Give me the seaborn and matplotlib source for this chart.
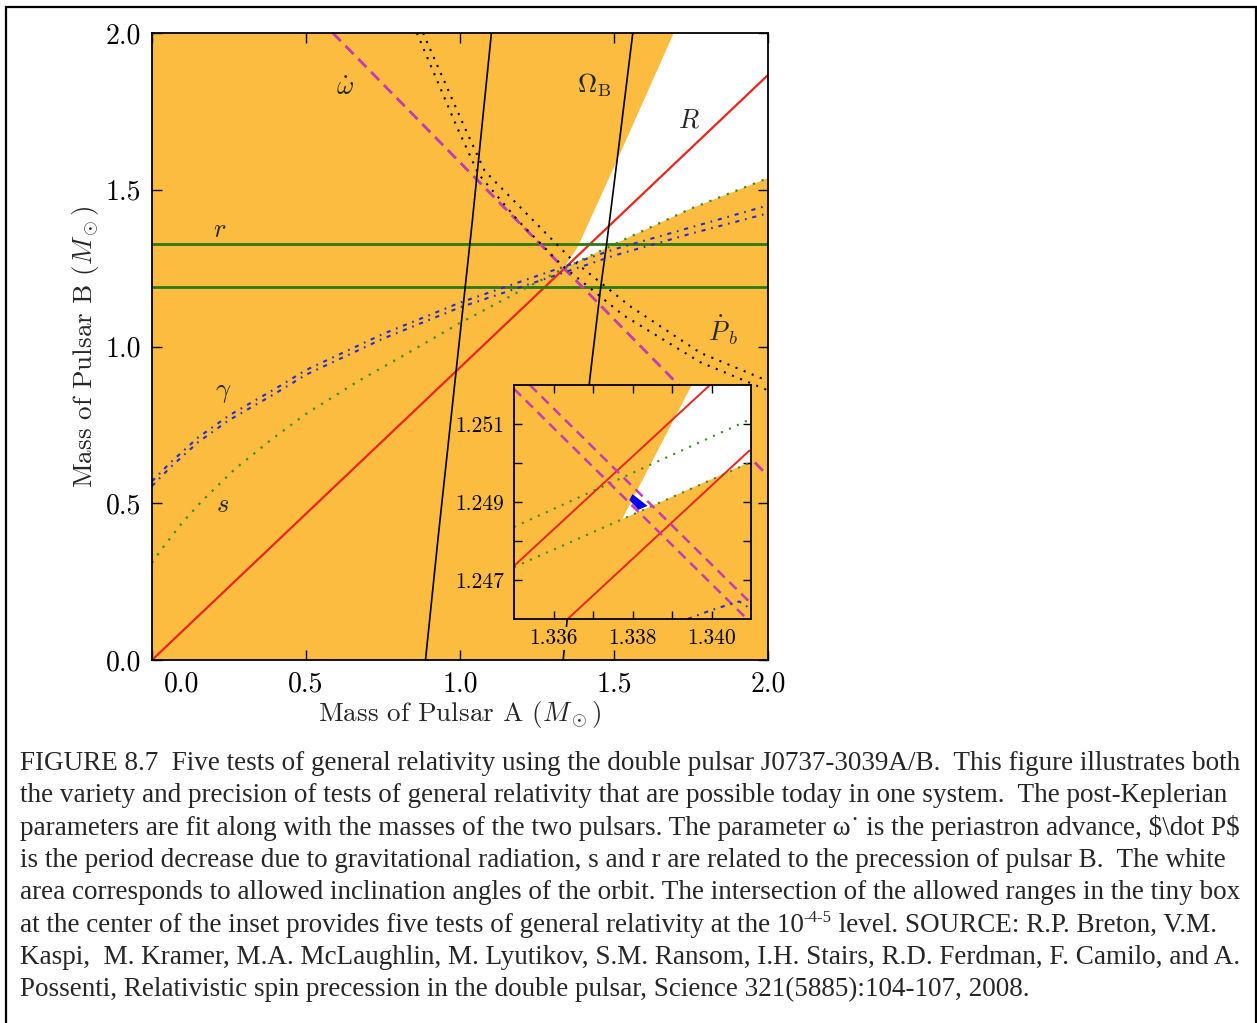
import matplotlib
matplotlib.use("Agg")
import matplotlib.pyplot as plt
import matplotlib.transforms as mtransforms
from matplotlib.patches import Rectangle
import seaborn as sns

# ---------------- data (solar masses) ----------------
# mass ratio R
R_x = [0.0, 2.0]
R_y = [0.0, 1.866]
# Shapiro range r : two horizontal bounds
r_lo = 1.190
r_hi = 1.327
# periastron advance (two nearly coincident bounds)
omdot1_x = [0.5869, 2.0]
omdot1_y = [2.0, 0.5869]
omdot2_x = [0.5873, 2.0]
omdot2_y = [2.0, 0.5873]
# Omega_B (spin precession), two bounds
omB1_x = [0.888, 0.930, 0.985, 1.040, 1.102]
omB1_y = [0.0, 0.40, 0.90, 1.40, 2.0]
omB2_x = [1.335, 1.385, 1.421, 1.457, 1.476, 1.519, 1.561]
omB2_y = [0.0, 0.50, 0.893, 1.190, 1.327, 1.665, 2.0]
# orbital decay Pb-dot, two bounds
pb1_x = [0.86, 0.99, 1.06, 1.19, 1.33, 1.53, 1.78, 2.00]
pb1_y = [2.00, 1.70, 1.55, 1.40, 1.26, 1.10, 0.95, 0.86]
pb2_x = [0.88, 1.01, 1.08, 1.22, 1.36, 1.55, 1.78, 2.00]
pb2_y = [2.00, 1.71, 1.56, 1.42, 1.28, 1.13, 0.98, 0.89]
# gamma, two bounds
gam_x = [0.0, 0.06, 0.15, 0.25, 0.40, 0.50, 0.75, 1.00, 1.25, 1.50, 1.75, 2.00]
gam1_y = [0.57, 0.63, 0.71, 0.78, 0.865, 0.925, 1.04, 1.14, 1.225, 1.31, 1.38, 1.45]
gam2_y = [0.555, 0.615, 0.695, 0.765, 0.85, 0.91, 1.025, 1.125, 1.207, 1.29, 1.36, 1.425]
# Shapiro shape s
s_x = [0.0, 0.04, 0.10, 0.16, 0.27, 0.39, 0.50, 0.67, 0.80, 1.00, 1.22, 1.35, 1.55, 1.75, 2.00]
s_y = [0.31, 0.365, 0.44, 0.505, 0.61, 0.705, 0.785, 0.89, 0.962, 1.075, 1.19, 1.255, 1.349, 1.44, 1.537]
# allowed inclination (white)
white_x = [1.337, 1.382, 1.506, 1.694, 2.0, 2.0, 1.75, 1.55]
white_y = [1.250, 1.317, 1.585, 2.0, 2.0, 1.537, 1.44, 1.349]

# labels on the main panel
lab_txt = [r"$\dot\omega$", r"$\Omega_\mathrm{B}$", r"$R$", r"$r$", r"$\dot P_b$", r"$\gamma$", r"$s$"]
lab_x = [0.628, 1.437, 1.743, 0.221, 1.854, 0.231, 0.228]
lab_y = [1.825, 1.834, 1.722, 1.372, 1.053, 0.852, 0.494]

# ---------------- inset ----------------
in_R1_x = [1.3350, 1.33996]
in_R1_y = [1.24736, 1.2520]
in_R2_x = [1.33636, 1.34096]
in_R2_y = [1.2460, 1.25032]
in_s1_x = [1.3350, 1.3410]
in_s1_y = [1.24836, 1.25113]
in_s2_x = [1.3350, 1.3410]
in_s2_y = [1.24733, 1.25002]
in_om1_x = [1.3350, 1.3410]
in_om1_y = [1.2519, 1.2459]
in_om2_x = [1.3354, 1.3410]
in_om2_y = [1.2520, 1.2464]
in_gam_x = [1.3394, 1.3400, 1.3407, 1.3409, 1.3410]
in_gam_y = [1.2460, 1.24623, 1.24645, 1.24632, 1.2462]
in_white_x = [1.33774, 1.3395, 1.3410, 1.3410]
in_white_y = [1.24856, 1.2520, 1.2520, 1.25004]
in_box_x = [1.33792, 1.33800, 1.33838, 1.33815]
in_box_y = [1.24905, 1.24920, 1.24890, 1.24880]

main_ticks = [0.0, 0.5, 1.0, 1.5, 2.0]
main_ticklabels = ["0.0", "0.5", "1.0", "1.5", "2.0"]
in_xticks = [1.336, 1.337, 1.338, 1.339, 1.340]
in_xticklabels = ["1.336", "", "1.338", "", "1.340"]
in_yticks = [1.247, 1.248, 1.249, 1.250, 1.251]
in_yticklabels = ["1.247", "", "1.249", "", "1.251"]

caption = [
    "FIGURE 8.7  Five tests of general relativity using the double pulsar J0737-3039A/B.  This figure illustrates both",
    "the variety and precision of tests of general relativity that are possible today in one system.  The post-Keplerian",
    r"parameters are fit along with the masses of the two pulsars. The parameter ω˙ is the periastron advance, \$\dot P\$",
    "is the period decrease due to gravitational radiation, s and r are related to the precession of pulsar B.  The white",
    "area corresponds to allowed inclination angles of the orbit. The intersection of the allowed ranges in the tiny box",
    ["at the center of the inset provides five tests of general relativity at the 10", "-4-5",
     " level. SOURCE: R.P. Breton, V.M."],
    "Kaspi,  M. Kramer, M.A. McLaughlin, M. Lyutikov, S.M. Ransom, I.H. Stairs, R.D. Ferdman, F. Camilo, and A.",
    "Possenti, Relativistic spin precession in the double pulsar, Science 321(5885):104-107, 2008.",
]

# colours
ORANGE = "#fbbc40"
RED = "#e8261c"
MAG = "#c23cb4"
BLUE = "#2a2ad6"
GREEN = "#3a8a22"
DKGREEN = "#2b7a18"

sns.set_style("ticks")
plt.rcParams["font.family"] = "cmr10"
plt.rcParams["mathtext.fontset"] = "cm"
plt.rcParams["axes.formatter.use_mathtext"] = True
plt.rcParams["axes.unicode_minus"] = False


def curve(a, xs, ys, **kw):
    sns.lineplot(x=xs, y=ys, ax=a, sort=False, estimator=None, legend=False, **kw)


W, H = 1257, 1023
fig = plt.figure(figsize=(W / 100, H / 100), dpi=100)

# ---------------- main panel ----------------
ax = fig.add_axes([152 / W, 1 - 660 / H, 616 / W, 627 / H])
ax.set_facecolor(ORANGE)
ax.fill(white_x, white_y, color="white", lw=0, zorder=0.5)

dotted = (0, (1, 3.2))
dashdot = (0, (2, 2.8, 0.8, 2.8))
curve(ax, R_x, R_y, color=RED, lw=1.6)
curve(ax, [0, 2], [r_lo, r_lo], color=DKGREEN, lw=2.0)
curve(ax, [0, 2], [r_hi, r_hi], color=DKGREEN, lw=2.0)
curve(ax, omdot1_x, omdot1_y, color=MAG, lw=1.8, linestyle=(0, (4.5, 2.8)))
curve(ax, omdot2_x, omdot2_y, color=MAG, lw=1.8, linestyle=(0, (4.5, 2.8)))
curve(ax, omB1_x, omB1_y, color="black", lw=1.2)
curve(ax, omB2_x, omB2_y, color="black", lw=1.2)
curve(ax, pb1_x, pb1_y, color="black", lw=1.5, linestyle=dotted)
curve(ax, pb2_x, pb2_y, color="black", lw=1.5, linestyle=dotted)
curve(ax, gam_x, gam1_y, color=BLUE, lw=1.5, linestyle=dashdot)
curve(ax, gam_x, gam2_y, color=BLUE, lw=1.5, linestyle=dashdot)
curve(ax, s_x, s_y, color=GREEN, lw=1.6, linestyle=dotted)

for t, x, y in zip(lab_txt, lab_x, lab_y):
    ax.text(x, y, t, fontsize=19, ha="center", va="center")

ax.set_xlim(0, 2)
ax.set_ylim(0, 2)
ax.set_xticks(main_ticks)
ax.set_xticklabels(main_ticklabels)
ax.set_yticks(main_ticks)
ax.set_yticklabels(main_ticklabels)
ax.tick_params(direction="in", top=True, right=True, length=7, width=1,
               labelsize=20, pad=8, colors="black")
for sp in ax.spines.values():
    sp.set_linewidth(1.3)
    sp.set_color("black")
ax.set_xlabel(r"Mass of Pulsar A ($M_\odot$)", fontsize=19.5, labelpad=1)
ax.set_ylabel(r"Mass of Pulsar B ($M_\odot$)", fontsize=19.5, labelpad=3)

# first x label sits a little to the right in the original
lab0 = ax.xaxis.get_major_ticks()[0].label1
lab0.set_transform(lab0.get_transform() +
                   mtransforms.ScaledTranslation(0.30, 0, fig.dpi_scale_trans))

# ---------------- inset ----------------
axi = fig.add_axes([514 / W, 1 - 619 / H, 237 / W, 234 / H])
axi.set_facecolor(ORANGE)
axi.fill(in_white_x, in_white_y, color="white", lw=0, zorder=0.5)
curve(axi, in_R1_x, in_R1_y, color=RED, lw=1.4)
curve(axi, in_R2_x, in_R2_y, color=RED, lw=1.4)
curve(axi, in_s1_x, in_s1_y, color=GREEN, lw=1.5, linestyle=dotted)
curve(axi, in_s2_x, in_s2_y, color=GREEN, lw=1.5, linestyle=dotted)
curve(axi, in_om1_x, in_om1_y, color=MAG, lw=1.8, linestyle=(0, (4, 2.6)))
curve(axi, in_om2_x, in_om2_y, color=MAG, lw=1.8, linestyle=(0, (4, 2.6)))
curve(axi, in_gam_x, in_gam_y, color=BLUE, lw=1.5, linestyle=dashdot)
axi.fill(in_box_x, in_box_y, color="#0000ee", lw=0, zorder=3)
axi.set_xlim(1.335, 1.341)
axi.set_ylim(1.246, 1.252)
axi.set_xticks(in_xticks)
axi.set_xticklabels(in_xticklabels)
axi.set_yticks(in_yticks)
axi.set_yticklabels(in_yticklabels)
axi.tick_params(direction="in", top=True, right=True, length=6, width=1,
                labelsize=15.5, pad=7, colors="black")
for lbl in axi.get_xticklabels() + axi.get_yticklabels():
    lbl.set_bbox(dict(fc=ORANGE, ec="none", pad=1))
for sp in axi.spines.values():
    sp.set_linewidth(1.3)
    sp.set_color("black")

# ---------------- frame and caption ----------------
fig.patches.append(Rectangle((6 / W, -0.02), 1250 / W, (H - 7) / H + 0.02,
                             transform=fig.transFigure, fill=False,
                             lw=1.6, ec="black"))
renderer = fig.canvas.get_renderer()
cap_font = dict(family="Liberation Serif", fontsize=19.5)
base = 770
for i, line in enumerate(caption):
    y = 1 - (base + i * 32.3) / H
    if isinstance(line, list):
        # superscript piece drawn as its own small text
        t1 = fig.text(20 / W, y, line[0], ha="left", va="baseline", **cap_font)
        x1 = t1.get_window_extent(renderer).x1
        t2 = fig.text(x1 / W, y + 9 / H, line[1], ha="left", va="baseline",
                      family="Liberation Serif", fontsize=12)
        x2 = t2.get_window_extent(renderer).x1
        fig.text(x2 / W, y, line[2], ha="left", va="baseline", **cap_font)
    else:
        fig.text(20 / W, y, line, ha="left", va="baseline", **cap_font)

fig.savefig("out.png", dpi=100)
